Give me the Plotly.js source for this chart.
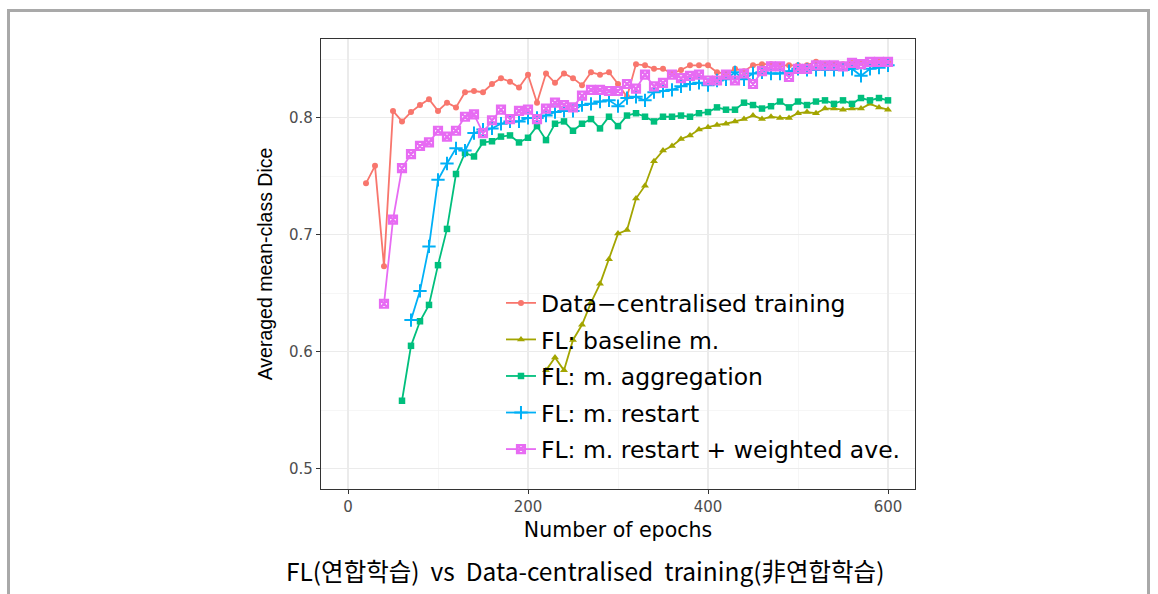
<!DOCTYPE html>
<html>
<head>
<meta charset="utf-8">
<script src="https://cdn.plot.ly/plotly-3.0.1.min.js"></script>
<style>
  html, body { margin: 0; padding: 0; background: #ffffff; }
  #frame { position: absolute; left: 7px; top: 9px; width: 1143px; height: 700px;
           border: 3px solid #a9a9a9; box-sizing: border-box; background: #ffffff; }
  #chart { position: absolute; left: 0; top: 0; width: 1158px; height: 594px; }
</style>
</head>
<body>
<div id="frame"></div>
<div id="chart"></div>
<script>
// Epochs (x values) shared by all series; each series ends at epoch 600
const epochs = [20,30,40,50,60,70,80,90,100,110,120,130,140,150,160,170,180,190,200,
  210,220,230,240,250,260,270,280,290,300,310,320,330,340,350,360,370,380,390,400,
  410,420,430,440,450,460,470,480,490,500,510,520,530,540,550,560,570,580,590,600];

const seriesNames = ["Data\u2212centralised training", "FL: baseline m.", "FL: m. aggregation",
  "FL: m. restart", "FL: m. restart + weighted ave."];

// Data-centralised training (epochs 20..600)
const centralised = [0.744,0.759,0.673,0.806,0.797,0.805,0.811,0.816,0.806,0.813,0.809,
  0.822,0.823,0.822,0.829,0.834,0.831,0.826,0.837,0.813,0.838,0.830,0.838,0.834,0.828,
  0.839,0.837,0.839,0.829,0.818,0.846,0.845,0.842,0.842,0.838,0.841,0.845,0.845,0.845,
  0.839,0.838,0.842,0.840,0.845,0.846,0.846,0.845,0.845,0.845,0.845,0.848,0.846,0.846,
  0.846,0.847,0.847,0.847,0.848,0.848];

// FL: baseline m. (epochs 220..600)
const baseline = [0.584,0.595,0.584,0.610,0.623,0.642,0.658,0.679,0.701,0.704,0.731,
  0.742,0.763,0.772,0.776,0.782,0.785,0.790,0.792,0.794,0.795,0.797,0.799,0.802,0.799,
  0.801,0.800,0.800,0.804,0.805,0.804,0.808,0.808,0.807,0.808,0.808,0.812,0.809,0.807];

// FL: m. aggregation (epochs 60..600)
const aggregation = [0.558,0.605,0.626,0.640,0.674,0.705,0.752,0.770,0.767,0.779,0.780,
  0.784,0.785,0.779,0.783,0.793,0.781,0.795,0.797,0.789,0.795,0.799,0.791,0.801,0.793,
  0.802,0.804,0.801,0.797,0.801,0.801,0.802,0.801,0.804,0.805,0.809,0.807,0.807,0.813,
  0.811,0.808,0.810,0.814,0.809,0.814,0.811,0.814,0.815,0.812,0.815,0.812,0.817,0.815,
  0.817,0.815];

// FL: m. restart (epochs 70..600)
const restart = [0.627,0.652,0.690,0.747,0.761,0.774,0.772,0.787,0.790,0.791,0.795,
  0.797,0.797,0.800,0.800,0.802,0.805,0.806,0.806,0.811,0.812,0.814,0.815,0.810,0.817,
  0.818,0.815,0.822,0.823,0.824,0.827,0.829,0.830,0.828,0.832,0.833,0.839,0.833,0.838,
  0.839,0.838,0.838,0.840,0.842,0.841,0.841,0.841,0.841,0.841,0.842,0.836,0.842,0.843,
  0.845];

// FL: m. restart + weighted ave. (epochs 40..600)
const weighted = [0.641,0.713,0.757,0.769,0.776,0.779,0.789,0.784,0.789,0.801,0.803,
  0.787,0.798,0.807,0.799,0.806,0.807,0.799,0.808,0.813,0.811,0.809,0.819,0.824,0.824,
  0.823,0.823,0.829,0.825,0.837,0.827,0.830,0.837,0.834,0.836,0.837,0.832,0.832,0.837,
  0.832,0.838,0.829,0.840,0.844,0.844,0.835,0.842,0.842,0.845,0.845,0.845,0.844,0.847,
  0.846,0.848,0.848,0.848];

const xTicks = [0, 200, 400, 600];
const yTicks = [0.5, 0.6, 0.7, 0.8];
const yTickText = ["0.5", "0.6", "0.7", "0.8"];
const xTitle = "Number of epochs";
const yTitle = "Averaged mean-class Dice";
const caption = "FL(연합학습)  vs  Data-centralised  training(非연합학습)";

const allValues = [centralised, baseline, aggregation, restart, weighted];
const colors = ["#F8766D", "#A3A500", "#00BF7D", "#00B0F6", "#E76BF3"];
const markers = [
  {symbol: "circle", size: 6},
  {symbol: "triangle-up", size: 7},
  {symbol: "square", size: 6.5},
  {symbol: "cross-thin-open", size: 9.5, line: {width: 2}},
  {symbol: "square-x-open", size: 8, line: {width: 2.2}}
];

const traces = allValues.map((vals, i) => ({
  type: "scatter",
  mode: "lines+markers",
  name: seriesNames[i],
  legendgroup: "g" + i,
  x: epochs.slice(epochs.length - vals.length),
  y: vals,
  line: {color: colors[i], width: 1.8},
  marker: Object.assign({color: colors[i]}, markers[i], {line: Object.assign({color: colors[i]}, markers[i].line || {width: 0})})
}));

const tickFont = {family: "DejaVu Sans, sans-serif", size: 15, color: "#4d4d4d"};

const layout = {
  width: 1158, height: 594,
  paper_bgcolor: "rgba(0,0,0,0)",
  plot_bgcolor: "#ffffff",
  margin: {l: 321, r: 243, t: 39, b: 105},
  showlegend: true,
  xaxis: {
    range: [-30, 630], tickvals: xTicks, ticktext: xTicks.map(String),
    showgrid: true, gridcolor: "#ebebeb", gridwidth: 1.1, zeroline: false,
    minor: {tickvals: [100, 300, 500], showgrid: true, gridcolor: "#f4f4f4", gridwidth: 0.8, ticklen: 0},
    ticks: "outside", ticklen: 4, tickcolor: "#333333", tickwidth: 1,
    showline: true, mirror: true, linecolor: "#333333", linewidth: 1.2,
    tickfont: tickFont,
    title: {text: xTitle, font: {family: "DejaVu Sans, sans-serif", size: 20.5, color: "#000000"}, standoff: 7}
  },
  yaxis: {
    range: [0.4825, 0.8675], tickvals: yTicks, ticktext: yTickText,
    showgrid: true, gridcolor: "#ebebeb", gridwidth: 1.1, zeroline: false,
    minor: {tickvals: [0.55, 0.65, 0.75, 0.85], showgrid: true, gridcolor: "#f4f4f4", gridwidth: 0.8, ticklen: 0},
    ticks: "outside", ticklen: 4, tickcolor: "#333333", tickwidth: 1,
    showline: true, mirror: true, linecolor: "#333333", linewidth: 1.2,
    tickfont: tickFont,
    title: {text: yTitle, font: {family: "Liberation Sans, Arial, sans-serif", size: 19.5, color: "#000000"}, standoff: 11}
  },
  legend: {
    x: 0.303, xanchor: "left", y: 0.462, yanchor: "top",
    bgcolor: "rgba(0,0,0,0)", borderwidth: 0,
    font: {family: "DejaVu Sans, sans-serif", size: 23.5, color: "#000000"},
    tracegroupgap: 3, itemwidth: 30
  },
  shapes: [{
    type: "rect", xref: "paper", yref: "paper", layer: "between",
    x0: 0.303, x1: 0.366, y0: 0.05, y1: 0.452,
    fillcolor: "#ffffff", line: {width: 0}
  }],
  annotations: [{
    text: caption, xref: "paper", yref: "paper", x: 0.444, y: -0.18,
    xanchor: "center", yanchor: "middle", showarrow: false,
    font: {family: "Noto Sans CJK KR, sans-serif", size: 24.5, color: "#000000"}
  }]
};

Plotly.newPlot("chart", traces, layout, {displayModeBar: false, staticPlot: true});
</script>
</body>
</html>
